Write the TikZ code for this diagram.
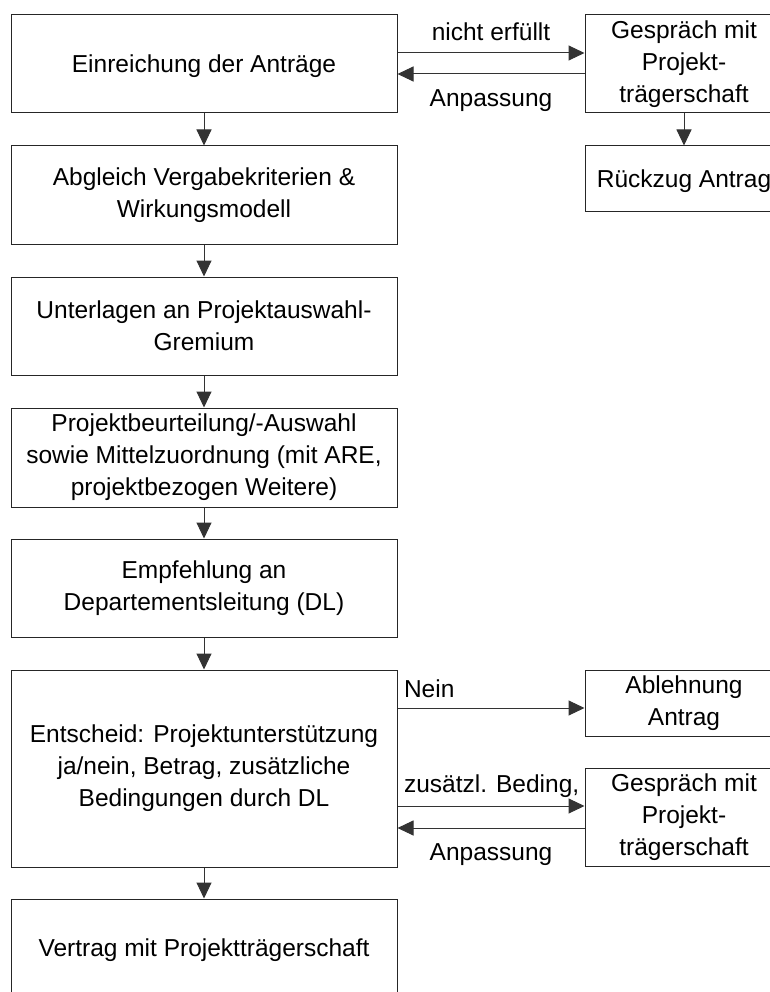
\documentclass[tikz,border=0pt]{standalone}
\usepackage{fontspec}
\setmainfont{Liberation Sans}
\usetikzlibrary{arrows.meta}
\tikzset{
  box/.style={draw=black!85, line width=1pt, align=center, inner sep=0pt,
    font=\fontsize{24.5}{32}\selectfont,
    execute at begin node={\rule{0pt}{23pt}}},
  mainbox/.style={box, minimum width=386pt, minimum height=98pt},
  sidebox/.style={box, minimum width=198pt, minimum height=98pt},
  arr/.style={draw=black!80, line width=1pt, -{Triangle[length=16pt,width=15pt]}},
  lbl/.style={inner sep=0pt, font=\fontsize{24.5}{32}\selectfont},
}
\begin{document}
\begin{tikzpicture}[x=1pt,y=-1pt]
\useasboundingbox (0,0) rectangle (769,992);

%Left column
\node[mainbox] (einr) at (204,64) {Einreichung der Anträge};
\node[mainbox] (abgl) at (204,195) {Abgleich Vergabekriterien \&\\Wirkungsmodell};
\node[mainbox] (unterl) at (204,326) {Unterlagen an Projektauswahl-\\Gremium};
\node[mainbox, minimum height=99pt] (beurt) at (204,457.5) {Projektbeurteilung/-Auswahl\\sowie Mittelzuordnung (mit ARE,\\projektbezogen Weitere)};
\node[mainbox] (empf) at (204,588) {Empfehlung an\\Departementsleitung (DL)};
\node[mainbox, minimum height=197pt] (entsch) at (204,768.5) {Entscheid: Projektunterstützung\\ja/nein, Betrag, zusätzliche\\Bedingungen durch DL};
\node[mainbox] (vertr) at (204,948) {Vertrag mit Projektträgerschaft};

%Right column
\node[sidebox] (gespr1) at (684,64) {Gespräch mit\\Projekt-\\trägerschaft};
\node[sidebox, minimum height=66pt] (rueckz) at (684,179) {Rückzug Antrag};
\node[sidebox, minimum height=66pt] (ablehn) at (684,703) {Ablehnung\\Antrag};
\node[sidebox] (gespr2) at (684,817.5) {Gespräch mit\\Projekt-\\trägerschaft};

%Down arrows
\foreach \a/\b in {einr/abgl, abgl/unterl, unterl/beurt, beurt/empf, empf/entsch, entsch/vertr, gespr1/rueckz}
  \draw[arr] (\a) -- (\b);

%Side arrows, top
\draw[arr] ([yshift=11pt]einr.east) -- ([yshift=11pt]gespr1.west)
  node[lbl, midway, anchor=base, yshift=12pt] {nicht erfüllt};
\draw[arr] ([yshift=-10pt]gespr1.west) -- ([yshift=-10pt]einr.east)
  node[lbl, midway, anchor=base, yshift=-33pt] {Anpassung};

%Side arrows, bottom
\coordinate (nein) at ([yshift=-5pt]ablehn.west);
\draw[arr] (entsch.east |- nein) -- (nein)
  node[lbl, pos=0, anchor=base west, xshift=6pt, yshift=11pt] {Nein};
\coordinate (bed) at ([yshift=11.5pt]gespr2.west);
\draw[arr] (entsch.east |- bed) -- (bed)
  node[lbl, pos=0, anchor=base west, xshift=6pt, yshift=14pt] {zusätzl. Beding,};
\coordinate (anp) at ([yshift=-10.5pt]gespr2.west);
\draw[arr] (anp) -- (entsch.east |- anp)
  node[lbl, midway, anchor=base, yshift=-32pt] {Anpassung};

\end{tikzpicture}
\end{document}
